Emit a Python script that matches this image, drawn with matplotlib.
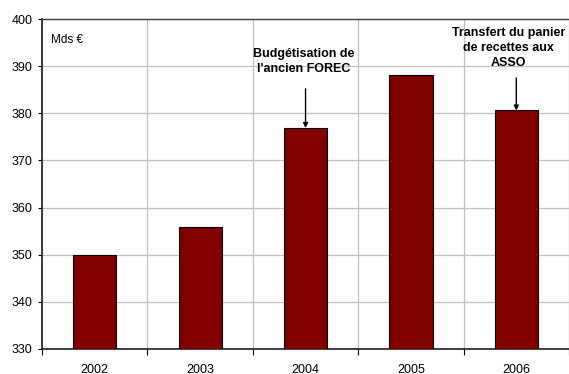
import numpy as np
import matplotlib.pyplot as plt
from matplotlib.ticker import FixedLocator, NullFormatter

plt.rcParams['font.family'] = ['Liberation Sans', 'DejaVu Sans']

years = ['2002', '2003', '2004', '2005', '2006']
values = [350.0, 355.8, 376.9, 388.1, 380.6]

# comment text, (arrow length, gap above arrow, horizontal shift)
notes = {2: ("Budgétisation de\nl'ancien FOREC", 8.3, 3.0, -0.02),
         4: ("Transfert du panier\nde recettes aux\nASSO", 6.9, 2.0, -0.07)}

bar_color = '#800000'
grid_color = '#c0c0c0'

fig = plt.figure(figsize=(5.69, 3.74), dpi=100)
ax = fig.add_axes([0.074, 0.067, 0.926, 0.882])

x = np.arange(len(years))
ax.bar(x, values, width=0.41, color=bar_color, edgecolor='black',
       linewidth=0.8, zorder=3)

ax.set_ylim(330, 400)
ax.set_xlim(-0.5, len(years) - 0.5)
ax.set_yticks(np.arange(330, 401, 10))

# category boundaries carry the ticks / grid, labels sit in the middle
ax.xaxis.set_major_locator(FixedLocator(np.arange(-0.5, len(years), 1.0)))
ax.xaxis.set_major_formatter(NullFormatter())
ax.xaxis.set_minor_locator(FixedLocator(x))
ax.set_xticklabels(years, minor=True)
ax.tick_params(axis='x', which='minor', length=0, pad=10.5, labelsize=9)
ax.tick_params(axis='x', which='major', length=4, width=0.8, direction='out')
ax.tick_params(axis='y', length=3, width=0.8, direction='out', pad=4,
               labelsize=9)

ax.grid(True, axis='both', which='major', color=grid_color, linewidth=0.9,
        zorder=0)

ax.spines['left'].set_color('#202020')
ax.spines['bottom'].set_color('#202020')
ax.spines['left'].set_linewidth(1.2)
ax.spines['bottom'].set_linewidth(1.2)
ax.spines['top'].set_color('#404040')
ax.spines['top'].set_linewidth(1.0)
ax.spines['right'].set_visible(False)

ax.text(0.016, 0.955, 'Mds €', transform=ax.transAxes, ha='left',
        va='top', fontsize=8.5)

# arrows pointing to the bars with their comment above
for i, (txt, alen, gap, dx) in notes.items():
    top = values[i]
    ax.annotate('', xy=(i, top), xytext=(i, top + alen),
                arrowprops=dict(arrowstyle='-|>', color='black', lw=1.0,
                                mutation_scale=7, shrinkA=0, shrinkB=0),
                zorder=4)
    ax.text(i + dx, top + alen + gap, txt, ha='center', va='bottom',
            fontsize=9, fontweight='bold', linespacing=1.3, zorder=4)

plt.savefig('out.png', dpi=100)
